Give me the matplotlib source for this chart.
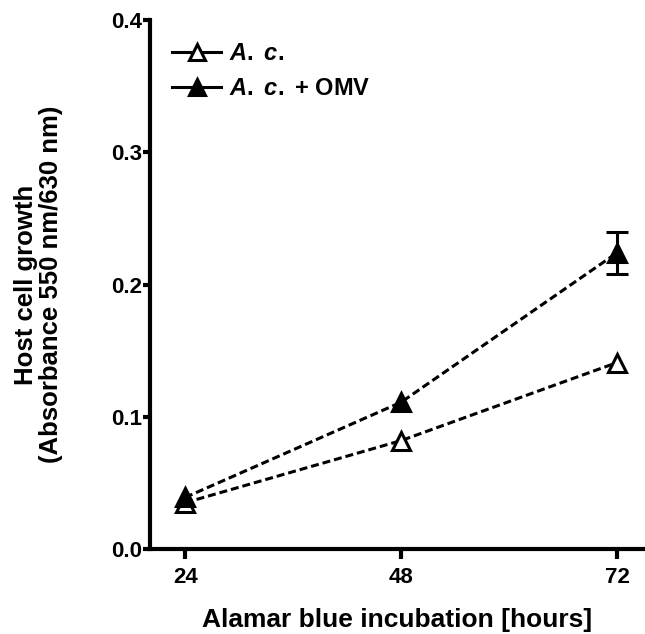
import matplotlib
matplotlib.use('Agg')
import matplotlib.pyplot as plt
from matplotlib.lines import Line2D
import numpy as np

plt.rcParams['font.family'] = ['Liberation Sans', 'DejaVu Sans']
plt.rcParams['font.weight'] = 'bold'
plt.rcParams['mathtext.fontset'] = 'custom'
plt.rcParams['mathtext.it'] = 'Liberation Sans:italic:bold'
plt.rcParams['mathtext.rm'] = 'Liberation Sans:bold'

Hours      = np.array([24, 48, 72])
AcMean     = np.array([0.035, 0.082, 0.141])
AcErr      = np.array([0.0, 0.0, 0.0])
AcOmvMean  = np.array([0.039, 0.111, 0.224])
AcOmvErr   = np.array([0.0, 0.0, 0.016])

Labels = [r'$\mathit{A.}$ $\mathit{c.}$', r'$\mathit{A.}$ $\mathit{c.}$ + OMV']

fig = plt.figure(figsize=(6.45, 6.34), dpi=100)
ax = fig.add_axes([0.2326, 0.134, 0.7674, 0.8345])

dash = (0, (2.6, 1.3))
lw = 2.2

for mean, err, face in [(AcMean, AcErr, 'white'), (AcOmvMean, AcOmvErr, 'black')]:
	ax.plot(Hours, mean, color='black', linestyle=dash, linewidth=lw, marker='^', markersize=13,
			markerfacecolor=face, markeredgecolor='black', markeredgewidth=2.2, zorder=3)
	m = err > 0
	if m.any():
		ax.errorbar(Hours[m], mean[m], yerr=err[m], fmt='none', ecolor='black', elinewidth=2.2,
					capsize=8, capthick=2.2, zorder=2)

ax.set_xlim(20.1, 75.1)
ax.set_ylim(0, 0.4)
ax.set_xticks(Hours)
ax.set_yticks([0.0, 0.1, 0.2, 0.3, 0.4])
ax.set_yticklabels(['0.0', '0.1', '0.2', '0.3', '0.4'])

for s in ['top', 'right']:
	ax.spines[s].set_visible(False)
for s in ['left', 'bottom']:
	ax.spines[s].set_linewidth(3)

ax.tick_params(axis='both', width=3, labelsize=16)
ax.tick_params(axis='x', length=7, pad=6)
ax.tick_params(axis='y', length=5, pad=1)

ax.set_xlabel('Alamar blue incubation [hours]', fontsize=19, fontweight='bold', labelpad=14)
ax.set_ylabel('Host cell growth\n(Absorbance 550 nm/630 nm)', fontsize=18.5, fontweight='bold',
			  linespacing=1.1)
ax.yaxis.set_label_coords(-0.175, 0.5)

handles = [Line2D([], [], color='black', linewidth=lw, marker='^', markersize=12,
				  markerfacecolor=f, markeredgecolor='black', markeredgewidth=2.2) for f in ['white', 'black']]
ax.legend(handles, Labels, loc='upper left', bbox_to_anchor=(0.025, 0.976), borderaxespad=0,
		  frameon=False, fontsize=17, handlelength=2.1, handletextpad=0.3, labelspacing=0.5)

plt.savefig('out.png', dpi=100)
